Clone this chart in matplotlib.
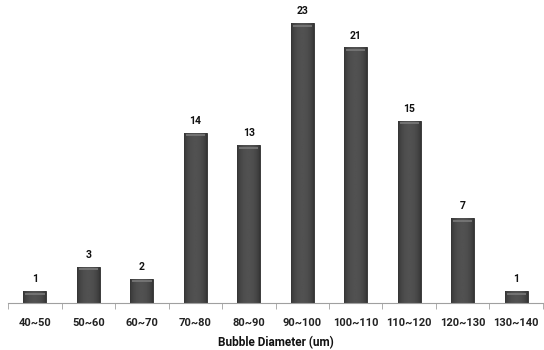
import matplotlib
matplotlib.use("Agg")
from matplotlib import pyplot as plt
import numpy as np

plt.rcParams['font.family'] = ['Roboto', 'DejaVu Sans']

categories = ['40~50', '50~60', '60~70', '70~80', '80~90',
              '90~100', '100~110', '110~120', '120~130', '130~140']
counts = [1, 3, 2, 14, 13, 23, 21, 15, 7, 1]

fig = plt.figure(figsize=(5.44, 3.5), dpi=100)
ax = fig.add_axes([0.015, 0.134, 0.983, 0.866])

x = np.arange(len(categories))
bars = ax.bar(x, counts, width=0.43, color='#3c3c3c', edgecolor='#2e2e2e', linewidth=0.6)

# horizontal shading to give the bars a rounded look
grad = np.linspace(0, 1, 64)
shade = 0.2 + 0.12 * np.sin(grad * np.pi) ** 0.6
img = np.tile(shade, (2, 1))
for b in bars:
    x0, w, h = b.get_x(), b.get_width(), b.get_height()
    im = ax.imshow(img, cmap='gray', vmin=0, vmax=1, aspect='auto',
                   extent=[x0, x0 + w, 0, h], zorder=2)
    im.set_clip_path(b)
    # light bevel at the top of each bar
    ax.plot([x0 + w * 0.08, x0 + w * 0.92], [h - 0.22, h - 0.22],
            color='#7a7a7a', lw=1.2, zorder=3, solid_capstyle='butt')

for xi, v in zip(x, counts):
    ax.text(xi, v + 0.55, str(v), ha='center', va='bottom',
            fontsize=7.5, fontweight='bold', color='#111111')

ax.set_xlim(-0.5, len(categories) - 0.5)
ax.set_ylim(0, 24.9)
ax.set_yticks([])
ax.set_xticks(np.arange(len(categories) + 1) - 0.5, minor=True)
ax.set_xticks(x)
ax.set_xticklabels(categories, fontsize=8, fontweight='bold', color='#222222')
ax.tick_params(axis='x', which='major', length=0, pad=10.5)
ax.tick_params(axis='x', which='minor', length=4, color='#a0a0a0', direction='out')
for s in ['top', 'right', 'left']:
    ax.spines[s].set_visible(False)
ax.spines['bottom'].set_color('#a0a0a0')
ax.set_xlabel('Bubble Diameter (um)', fontsize=8.5, fontweight='bold', color='#111111', labelpad=6)

fig.savefig('out.png', dpi=100)
